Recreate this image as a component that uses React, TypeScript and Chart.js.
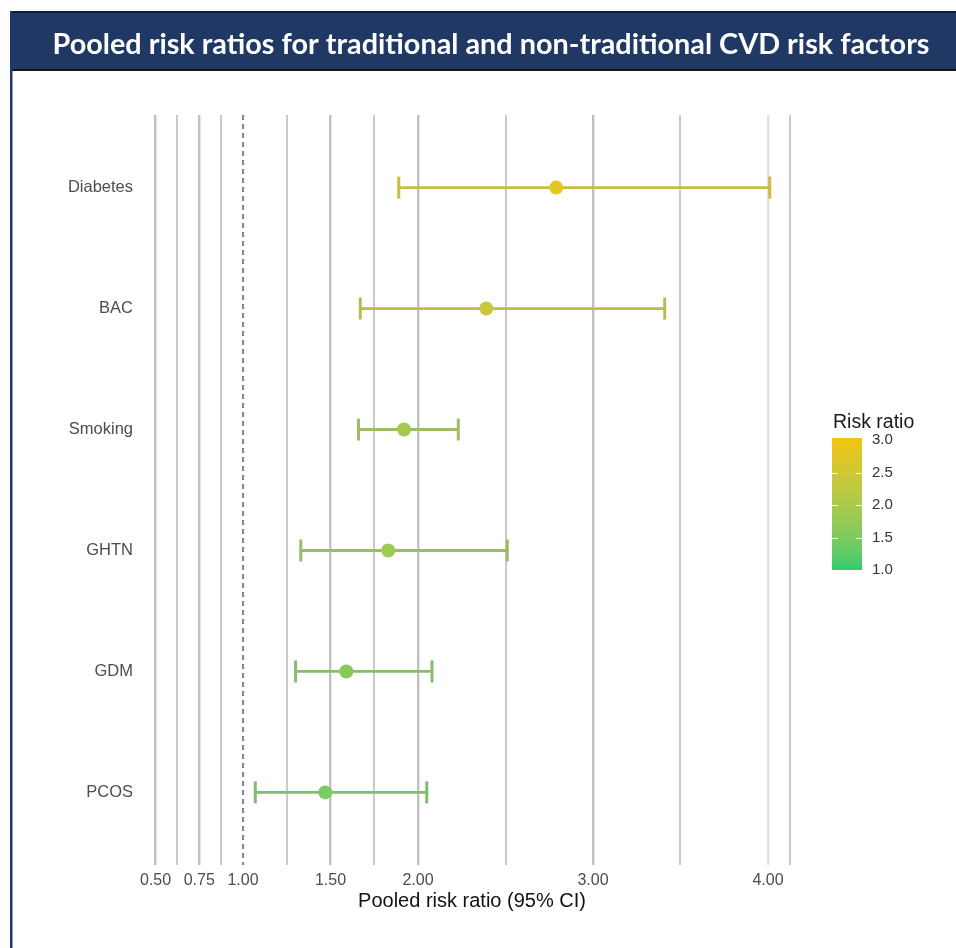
import React, { useEffect, useRef } from "react";
import { Chart, registerables } from "chart.js";
Chart.register(...registerables);

// ---------- data ----------
const factors = ["Diabetes", "BAC", "Smoking", "GHTN", "GDM", "PCOS"];
const riskRatio = [2.79, 2.39, 1.92, 1.83, 1.59, 1.47];
const ciLow = [1.89, 1.67, 1.66, 1.33, 1.3, 1.07];
const ciHigh = [4.01, 3.41, 2.23, 2.51, 2.08, 2.05];
const xTickValues = [0.5, 0.625, 0.75, 0.875, 1, 1.25, 1.5, 1.75, 2, 2.5, 3, 3.5, 4, 4.125];
const xTickLabels = ["0.50", "", "0.75", "", "1.00", "", "1.50", "", "2.00", "", "3.00", "", "4.00", ""];
const legendTicks = [3.0, 2.5, 2.0, 1.5, 1.0];
const legendTickLabels = ["3.0", "2.5", "2.0", "1.5", "1.0"];
const referenceValue = 1;
const colorLow = 1.0;
const colorHigh = 3.0;
const titleText = "Pooled risk ratios for traditional and non-traditional CVD risk factors";
const xTitle = "Pooled risk ratio (95% CI)";
const legendTitle = "Risk ratio";

// ---------- colour helpers (Lab interpolation like ggplot) ----------
function hexToRgb(h: string) {
  const n = parseInt(h.slice(1), 16);
  return [(n >> 16) & 255, (n >> 8) & 255, n & 255];
}
function srgbToLin(c: number) {
  c /= 255;
  return c <= 0.04045 ? c / 12.92 : Math.pow((c + 0.055) / 1.055, 2.4);
}
function linToSrgb(c: number) {
  const v = c <= 0.0031308 ? 12.92 * c : 1.055 * Math.pow(c, 1 / 2.4) - 0.055;
  return Math.max(0, Math.min(255, Math.round(v * 255)));
}
const WX = 0.95047, WY = 1.0, WZ = 1.08883;
function f(t: number) {
  return t > 216 / 24389 ? Math.cbrt(t) : (24389 / 27 * t + 16) / 116;
}
function finv(t: number) {
  return t * t * t > 216 / 24389 ? t * t * t : (116 * t - 16) / (24389 / 27);
}
function rgbToLab(rgb: number[]) {
  const [r, g, b] = rgb.map(srgbToLin);
  const x = r * 0.4124 + g * 0.3576 + b * 0.1805;
  const y = r * 0.2126 + g * 0.7152 + b * 0.0722;
  const z = r * 0.0193 + g * 0.1192 + b * 0.9505;
  const fx = f(x / WX), fy = f(y / WY), fz = f(z / WZ);
  return [116 * fy - 16, 500 * (fx - fy), 200 * (fy - fz)];
}
function labToRgb(lab: number[]) {
  const [L, a, bb] = lab;
  const fy = (L + 16) / 116;
  const fx = fy + a / 500;
  const fz = fy - bb / 200;
  const x = finv(fx) * WX, y = finv(fy) * WY, z = finv(fz) * WZ;
  const r = x * 3.2406 + y * -1.5372 + z * -0.4986;
  const g = x * -0.9689 + y * 1.8758 + z * 0.0415;
  const b = x * 0.0557 + y * -0.204 + z * 1.057;
  return [linToSrgb(r), linToSrgb(g), linToSrgb(b)];
}
const LAB_LOW = rgbToLab(hexToRgb("#2ECC71"));
const LAB_HIGH = rgbToLab(hexToRgb("#F1C40F"));
function riskRgb(v: number) {
  const t = Math.max(0, Math.min(1, (v - colorLow) / (colorHigh - colorLow)));
  return labToRgb(LAB_LOW.map((l, i) => l + (LAB_HIGH[i] - l) * t));
}
function rgbStr(c: number[]) {
  return `rgb(${c[0]},${c[1]},${c[2]})`;
}
function riskColor(v: number) {
  return rgbStr(riskRgb(v));
}
function mutedColor(v: number) {
  const c = riskRgb(v);
  return rgbStr(c.map((x) => Math.round(x * 0.72 + 150 * 0.28)));
}

const FONT = '"Liberation Sans", Arial, Helvetica, sans-serif';
const Y_MIN = -0.6;
const Y_MAX = 5.6;

export default function App() {
  const ref = useRef<HTMLCanvasElement>(null);

  useEffect(() => {
    const canvas = ref.current;
    if (!canvas) return;

    const pointColors = riskRatio.map(riskColor);
    const datasets: any[] = [];
    datasets.push({
      label: "Risk ratio",
      data: riskRatio.map((v, i) => ({ x: v, y: i })),
      pointRadius: 7,
      pointBackgroundColor: pointColors,
      pointBorderColor: pointColors,
      pointBorderWidth: 0,
      showLine: false,
      order: 0,
    });
    factors.forEach((name, i) => {
      const c = mutedColor(riskRatio[i]);
      datasets.push({
        label: name,
        data: [
          { x: ciLow[i], y: i },
          { x: ciHigh[i], y: i },
        ],
        showLine: true,
        borderColor: c,
        borderWidth: 2.8,
        pointStyle: "line",
        pointRotation: 90,
        pointRadius: 11,
        pointBorderWidth: 3,
        pointBorderColor: c,
        pointBackgroundColor: c,
        order: 1,
      });
    });
    datasets.push({
      label: "reference",
      data: [
        { x: referenceValue, y: Y_MIN },
        { x: referenceValue, y: Y_MAX },
      ],
      showLine: true,
      borderColor: "#8a8a8a",
      borderWidth: 2.2,
      borderDash: [5, 4],
      pointRadius: 0,
      order: 2,
    });

    const framePlugin = {
      id: "frame",
      beforeDraw(chart: any) {
        const ctx = chart.ctx as CanvasRenderingContext2D;
        const W = chart.width, H = chart.height;
        ctx.save();
        ctx.fillStyle = "#ffffff";
        ctx.fillRect(0, 0, W, H);
        // banner
        ctx.fillStyle = "#203864";
        ctx.fillRect(10, 11, W - 10, 59);
        ctx.fillStyle = "#10203c";
        ctx.fillRect(10, 11, W - 10, 2);
        ctx.fillStyle = "#141414";
        ctx.fillRect(10, 69, W - 10, 2);
        // left border
        ctx.fillStyle = "#203864";
        ctx.fillRect(10, 11, 2.5, H - 11);
        // title
        ctx.fillStyle = "#ffffff";
        ctx.font = 'bold 29px Lato, "Open Sans", sans-serif';
        ctx.textAlign = "center";
        ctx.textBaseline = "alphabetic";
        ctx.fillText(titleText, 491, 54, 877);
        ctx.restore();
      },
      afterDraw(chart: any) {
        const ctx = chart.ctx as CanvasRenderingContext2D;
        const ca = chart.chartArea;
        const barX = ca.right + 32;
        const barW = 30;
        const barTop = 440;
        const barBottom = 570;
        const yOf = (v: number) => barTop + ((colorHigh - v) / (colorHigh - colorLow)) * (barBottom - barTop);
        ctx.save();
        // title
        ctx.fillStyle = "#1a1a1a";
        ctx.font = `19.5px ${FONT}`;
        ctx.textAlign = "left";
        ctx.textBaseline = "middle";
        ctx.fillText(legendTitle, barX + 1, 423);
        // gradient
        const g = ctx.createLinearGradient(0, barBottom, 0, barTop);
        for (let k = 0; k <= 20; k++) {
          const t = k / 20;
          g.addColorStop(t, riskColor(colorLow + t * (colorHigh - colorLow)));
        }
        ctx.fillStyle = g;
        ctx.fillRect(barX, barTop - 2, barW, barBottom - barTop + 2);
        // white ticks
        ctx.strokeStyle = "rgba(255,255,255,0.9)";
        ctx.lineWidth = 1;
        legendTicks.forEach((v) => {
          if (v === colorHigh || v === colorLow) return;
          const y = Math.round(yOf(v)) + 0.5;
          ctx.beginPath();
          ctx.moveTo(barX, y);
          ctx.lineTo(barX + 6, y);
          ctx.moveTo(barX + barW - 6, y);
          ctx.lineTo(barX + barW, y);
          ctx.stroke();
        });
        // labels
        ctx.fillStyle = "#333333";
        ctx.font = `15px ${FONT}`;
        legendTicks.forEach((v, i) => {
          ctx.fillText(legendTickLabels[i], barX + barW + 10, yOf(v));
        });
        ctx.restore();
      },
    };

    const chart = new Chart(canvas, {
      type: "scatter",
      data: { datasets },
      options: {
        responsive: false,
        animation: false,
        events: [],
        layout: { padding: { top: 115, right: 156, bottom: 0, left: 0 } },
        plugins: {
          legend: { display: false },
          tooltip: { enabled: false },
          title: { display: false },
        },
        scales: {
          x: {
            type: "linear",
            min: 0.434,
            max: 4.183,
            afterBuildTicks: (scale: any) => {
              scale.ticks = xTickValues.map((v) => ({ value: v }));
            },
            afterFit: (scale: any) => {
              scale.height = 83;
            },
            ticks: {
              autoSkip: false,
              maxRotation: 0,
              minRotation: 0,
              padding: 6,
              color: "#4d4d4d",
              font: { family: FONT, size: 16 },
              callback: (value: any) => {
                const idx = xTickValues.indexOf(Number(value));
                return idx >= 0 ? xTickLabels[idx] : "";
              },
            },
            grid: {
              drawTicks: false,
              color: (ctx: any) => {
                const v = ctx.tick ? ctx.tick.value : null;
                if (v === referenceValue) return "rgba(0,0,0,0)";
                if (v === 4) return "#e2e2e2";
                const idx = xTickValues.indexOf(v);
                return idx >= 0 && xTickLabels[idx] !== "" ? "#c0c0c0" : "#cacaca";
              },
              lineWidth: (ctx: any) => {
                const v = ctx.tick ? ctx.tick.value : null;
                const idx = xTickValues.indexOf(v);
                return idx >= 0 && xTickLabels[idx] !== "" ? 2.4 : 2;
              },
            },
            border: { display: false },
            title: {
              display: true,
              text: xTitle,
              color: "#111111",
              font: { family: FONT, size: 20 },
              padding: { top: 0, bottom: 35 },
            },
          },
          y: {
            type: "linear",
            reverse: true,
            min: Y_MIN,
            max: Y_MAX,
            afterBuildTicks: (scale: any) => {
              scale.ticks = factors.map((_, i) => ({ value: i }));
            },
            afterFit: (scale: any) => {
              scale.width = 144;
            },
            ticks: {
              autoSkip: false,
              padding: 11,
              color: "#4d4d4d",
              font: { family: FONT, size: 16.5 },
              callback: (value: any) => factors[Number(value)] ?? "",
            },
            grid: { display: false, drawTicks: false },
            border: { display: false },
          },
        },
      },
      plugins: [framePlugin],
    } as any);

    return () => {
      chart.destroy();
    };
  }, []);

  return (
    <canvas
      ref={ref}
      width={956}
      height={948}
      style={{ position: "absolute", left: 0, top: 0, display: "block", width: 956, height: 948 }}
    />
  );
}
